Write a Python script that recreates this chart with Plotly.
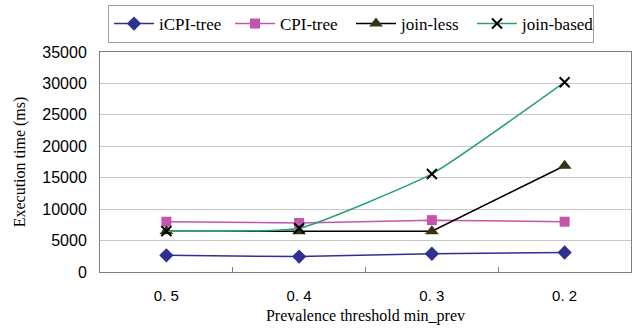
import plotly.graph_objects as go

categories = ["0. 5", "0. 4", "0. 3", "0. 2"]
icpi_tree = [2650, 2450, 2900, 3100]
cpi_tree = [8000, 7800, 8250, 8000]
join_less = [6500, 6500, 6500, 16900]
join_based = [6500, 6950, 15600, 30200]

fig = go.Figure()
fig.add_trace(go.Scatter(x=categories, y=icpi_tree, name="iCPI-tree", mode="lines+markers",
                         line=dict(color="#2E3192", width=1.5),
                         marker=dict(symbol="diamond", size=11, color="#2E3192")))
fig.add_trace(go.Scatter(x=categories, y=cpi_tree, name="CPI-tree", mode="lines+markers",
                         line=dict(color="#C455AC", width=1.5),
                         marker=dict(symbol="square", size=10, color="#C455AC")))
fig.add_trace(go.Scatter(x=categories, y=join_less, name="join-less", mode="lines+markers",
                         line=dict(color="#000000", width=1.5),
                         marker=dict(symbol="triangle-up", size=12, color="#333318")))
fig.add_trace(go.Scatter(x=categories, y=join_based, name="join-based", mode="lines+markers",
                         line=dict(color="#2AA36B", width=1.5, shape="spline", smoothing=0.4),
                         marker=dict(symbol="x-thin", size=10, color="#000000",
                                     line=dict(color="#000000", width=2))))

fig.update_layout(
    width=642, height=331,
    margin=dict(l=100, r=11, t=52, b=59, autoexpand=False),
    paper_bgcolor="white", plot_bgcolor="white",
    font=dict(family="Liberation Serif", color="#000000"),
    showlegend=True,
    legend=dict(orientation="h", xref="container", yref="container",
                x=108 / 642, xanchor="left", y=1 - 5 / 331, yanchor="top",
                bordercolor="#A0A0A0", borderwidth=1, font=dict(family="Liberation Serif", size=17),
                itemwidth=40, tracegroupgap=0, entrywidth=66, entrywidthmode="pixels"),
    xaxis=dict(type="category", range=[-0.5, 3.5], showgrid=False, showline=True, linecolor="#808080", mirror=True,
               ticks="inside", ticklen=5, tickcolor="#808080",
               tickson="boundaries", ticklabelstandoff=10,
               tickfont=dict(family="Liberation Sans", size=15),
               title=dict(text="Prevalence threshold min_prev", font=dict(family="Liberation Serif", size=16), standoff=6)),
    yaxis=dict(range=[0, 35000], dtick=5000, tickformat="d", showgrid=True, gridcolor="#C8C8C8", gridwidth=1,
               showline=True, linecolor="#808080", mirror=True, zeroline=False,
               ticks="", ticklabelstandoff=9, tickfont=dict(family="Liberation Sans", size=16),
               title=dict(text="Execution time (ms)", font=dict(family="Liberation Serif", size=16), standoff=12)),
)

fig.write_html("out.html")
